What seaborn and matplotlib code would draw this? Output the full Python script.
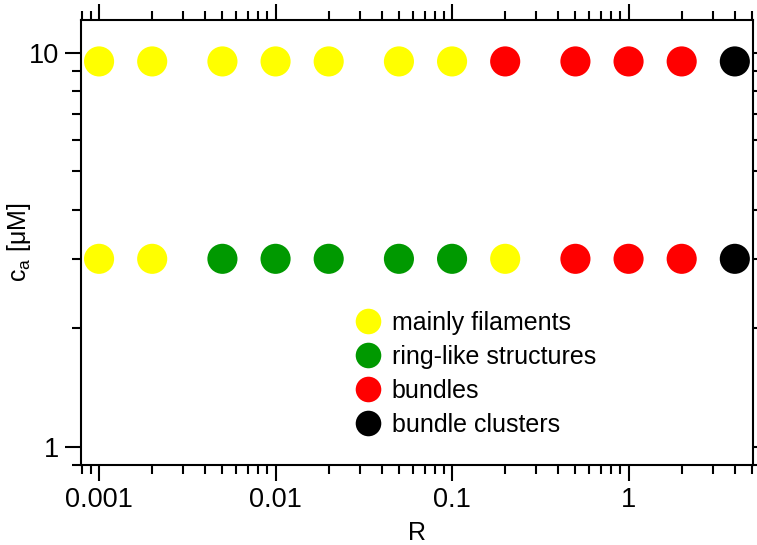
import numpy as np
import pandas as pd
import seaborn as sns
import matplotlib
matplotlib.use("Agg")
import matplotlib.pyplot as plt
from matplotlib.ticker import LogLocator, FixedLocator, NullFormatter, FixedFormatter

# Data
R_values = [0.001, 0.002, 0.005, 0.01, 0.02, 0.05, 0.1, 0.2, 0.5, 1, 2, 4]
ca_high = 9.5
ca_low = 3.0
states_high = ["mainly filaments"] * 7 + ["bundles"] * 4 + ["bundle clusters"]
states_low = (["mainly filaments"] * 2 + ["ring-like structures"] * 5 +
              ["mainly filaments"] + ["bundles"] * 3 + ["bundle clusters"])
categories = ["mainly filaments", "ring-like structures", "bundles", "bundle clusters"]
colors = ["#FFFF00", "#009900", "#FF0000", "#000000"]

df = pd.DataFrame({
    "R": R_values + R_values,
    "ca": [ca_high] * len(R_values) + [ca_low] * len(R_values),
    "state": states_high + states_low,
})

sns.set_theme(style="white")
plt.rcParams["font.family"] = ["Liberation Sans", "DejaVu Sans"]
plt.rcParams["text.color"] = "black"
plt.rcParams["axes.labelcolor"] = "black"
plt.rcParams["xtick.color"] = "black"
plt.rcParams["ytick.color"] = "black"

fig = plt.figure(figsize=(7.57, 5.45), dpi=100)
ax = fig.add_axes([0.107, 0.1468, 0.8877, 0.8165])

sns.scatterplot(data=df, x="R", y="ca", hue="state", hue_order=categories,
                palette=dict(zip(categories, colors)), s=470, linewidth=0,
                ax=ax, zorder=3)

ax.set_xscale("log")
ax.set_yscale("log")
ax.set_xlim(0.00079, 5.07)
ax.set_ylim(0.9, 12.1)

ax.xaxis.set_major_locator(FixedLocator([0.001, 0.01, 0.1, 1]))
ax.xaxis.set_major_formatter(FixedFormatter(["0.001", "0.01", "0.1", "1"]))
ax.xaxis.set_minor_locator(LogLocator(base=10, subs=np.arange(2, 10)))
ax.xaxis.set_minor_formatter(NullFormatter())
ax.yaxis.set_major_locator(FixedLocator([1, 10]))
ax.yaxis.set_major_formatter(FixedFormatter(["1", "10"]))
ax.yaxis.set_minor_locator(LogLocator(base=10, subs=np.arange(2, 10)))
ax.yaxis.set_minor_formatter(NullFormatter())

for sp in ax.spines.values():
    sp.set_visible(True)
    sp.set_color("black")
    sp.set_linewidth(1.5)

ax.tick_params(which="both", direction="out", top=True, right=True,
               bottom=True, left=True, color="black", width=1.5,
               labeltop=False, labelright=False)
ax.tick_params(which="major", length=11.5, labelsize=19.5, pad=4, labelcolor="black")
ax.tick_params(which="minor", length=6.5)

ax.set_xlabel("R", fontsize=18, labelpad=6, color="black")
ax.set_ylabel(r"c$_\mathregular{a}$ [μM]", fontsize=18, color="black")
ax.yaxis.set_label_coords(-0.071, 0.5)

leg = ax.legend(loc="upper left", bbox_to_anchor=(0.405, 0.346), frameon=False,
                fontsize=18, markerscale=0.85, handletextpad=0.35,
                labelspacing=0.4, borderpad=0, borderaxespad=0,
                handlelength=1.2)
for t in leg.get_texts():
    t.set_color("black")

fig.savefig("out.png", dpi=100)
